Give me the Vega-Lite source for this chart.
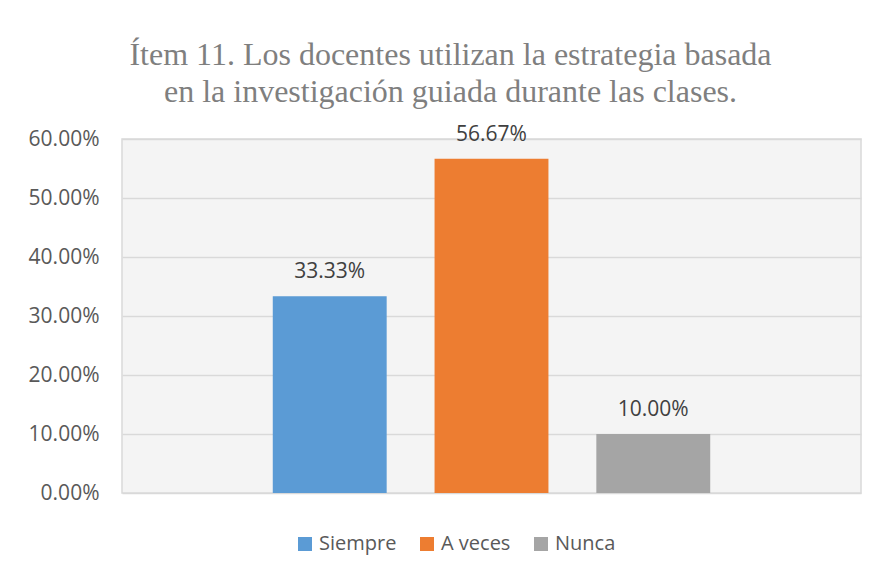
{
  "$schema": "https://vega.github.io/schema/vega-lite/v6.json",
  "autosize": "none",
  "width": 739,
  "height": 354,
  "padding": {"left": 122, "top": 139, "right": 16, "bottom": 83},
  "background": "#ffffff",
  "title": {
    "text": ["Ítem 11.  Los docentes utilizan la estrategia basada", "en la investigación guiada durante las clases."],
    "font": "Liberation Serif",
    "fontSize": 32,
    "fontWeight": "normal",
    "color": "#7f7f7f",
    "lineHeight": 37,
    "anchor": "middle",
    "frame": "group",
    "dx": -41,
    "offset": 15
  },
  "data": {
    "values": [
      {"respuesta": "Siempre", "porcentaje": 0.3333},
      {"respuesta": "A veces", "porcentaje": 0.5667},
      {"respuesta": "Nunca", "porcentaje": 0.1}
    ]
  },
  "encoding": {
    "x": {
      "field": "respuesta",
      "type": "nominal",
      "sort": null,
      "scale": {"paddingInner": 0.296, "paddingOuter": 0.932},
      "axis": null
    },
    "y": {
      "field": "porcentaje",
      "type": "quantitative",
      "scale": {"domain": [0, 0.6], "nice": false},
      "axis": {
        "values": [0, 0.1, 0.2, 0.3, 0.4, 0.5, 0.6],
        "format": ".2%",
        "title": null,
        "ticks": false,
        "domain": false,
        "grid": true,
        "gridColor": "#d9d9d9",
        "gridWidth": 1.5,
        "labelFont": "Open Sans",
        "labelFontSize": 21,
        "labelColor": "#595959",
        "labelPadding": 23
      }
    }
  },
  "layer": [
    {
      "mark": {"type": "bar"},
      "encoding": {
        "color": {
          "field": "respuesta",
          "type": "nominal",
          "scale": {"domain": ["Siempre", "A veces", "Nunca"], "range": ["#5b9bd5", "#ed7d31", "#a5a5a5"]},
          "legend": {
            "title": null,
            "orient": "none",
            "direction": "horizontal",
            "legendX": 173,
            "legendY": 395,
            "symbolType": "square",
            "symbolSize": 196,
            "symbolStrokeWidth": 0,
            "labelFont": "Open Sans",
            "labelFontSize": 20,
            "labelColor": "#595959",
            "labelOffset": 4,
            "columnPadding": 20,
            "padding": 0
          }
        }
      }
    },
    {
      "mark": {"type": "text", "baseline": "alphabetic", "dy": -18, "font": "Open Sans", "fontSize": 21, "color": "#404040"},
      "encoding": {
        "text": {"field": "porcentaje", "type": "quantitative", "format": ".2%"}
      }
    }
  ],
  "config": {
    "view": {"stroke": "#d9d9d9", "strokeWidth": 1.5, "fill": "#f4f4f4"}
  }
}
